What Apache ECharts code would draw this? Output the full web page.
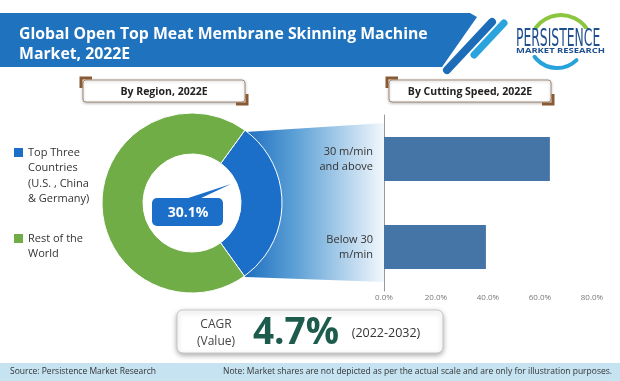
<!DOCTYPE html>
<html>
<head>
<meta charset="utf-8">
<script src="https://cdn.jsdelivr.net/npm/echarts@6/dist/echarts.min.js"></script>
<style>html,body{margin:0;padding:0;background:#fff}#c{width:620px;height:381px}</style>
</head>
<body>
<div id="c"></div>
<script>
const titleLines = ['Global Open Top Meat Membrane Skinning Machine', 'Market, 2022E'];
const regionNames = ['Top Three Countries (U.S. , China & Germany)', 'Rest of the World'];
const regionLegendLabels = ['Top Three\nCountries\n(U.S. , China\n& Germany)', 'Rest of the\nWorld'];
const regionShares = [30.1, 69.9];
const regionColors = ['#1c6fc9', '#70ad47'];
const calloutText = '30.1%';
const speedCategories = ['Below 30\nm/min', '30 m/min\nand above'];
const speedShares = [39.2, 63.8];
const xTickValues = [0, 20, 40, 60, 80];
const cagrValue = '4.7%';
const cagrPeriod = '(2022-2032)';
const sourceText = 'Source: Persistence Market Research';
const noteText = 'Note: Market shares are not depicted as per the actual scale and are only for illustration purposes.';

const chart = echarts.init(document.getElementById('c'), null, {renderer: 'canvas'});
const FF = '"Open Sans", "Noto Sans", sans-serif';

function headerBox(x, y, w, h, label) {
  return [
    {type: 'rect', shape: {x: x, y: y, width: w, height: h, r: 3}, style: {fill: '#fff', stroke: '#a38b78', lineWidth: 1, shadowBlur: 3, shadowColor: 'rgba(0,0,0,0.25)', shadowOffsetY: 1}, z: 5},
    {type: 'polyline', shape: {points: [[x - 2, y + 8], [x - 2, y - 2], [x + 9, y - 2]]}, style: {stroke: '#8a5a33', lineWidth: 3, fill: null}, z: 6},
    {type: 'polyline', shape: {points: [[x + w + 2, y + h - 8], [x + w + 2, y + h + 2], [x + w - 9, y + h + 2]]}, style: {stroke: '#8a5a33', lineWidth: 3, fill: null}, z: 6},
    {type: 'text', style: {text: label, x: x + w / 2, y: y + h / 2 + 1, align: 'center', verticalAlign: 'middle', fontFamily: FF, fontSize: 10.5, fontWeight: 'bold', fill: '#222'}, z: 7}
  ];
}

const graphics = [];
// header band
graphics.push({type: 'polygon', shape: {points: [[0, 13], [470, 13], [477, 17], [442, 67], [0, 67]]}, style: {fill: '#1f72bd'}, z: 1});
graphics.push({type: 'line', shape: {x1: 447, y1: 70, x2: 492, y2: 22}, style: {stroke: '#1c6cb8', lineWidth: 8, lineCap: 'round'}, z: 1});
graphics.push({type: 'line', shape: {x1: 474, y1: 55, x2: 504, y2: 23}, style: {stroke: '#2ba3dd', lineWidth: 7, lineCap: 'round'}, z: 1});
graphics.push({type: 'text', style: {text: titleLines.join('\n'), x: 19, y: 24, fontFamily: FF, fontSize: 15.8, fontWeight: 'bold', fill: '#fff', lineHeight: 20}, z: 2});
// logo
graphics.push({type: 'arc', shape: {cx: 561, cy: 46, r: 31, startAngle: 3.6, endAngle: 5.9, clockwise: true}, style: {stroke: '#8cc63f', lineWidth: 4, fill: null, lineCap: 'round'}, z: 1});
graphics.push({type: 'arc', shape: {cx: 557, cy: 40, r: 28, startAngle: 0.8, endAngle: 2.5, clockwise: true}, style: {stroke: '#27a2db', lineWidth: 4, fill: null, lineCap: 'round'}, z: 1});
graphics.push({type: 'rect', shape: {x: 514, y: 29, width: 90, height: 26}, style: {fill: '#fff'}, z: 2});
graphics.push({type: 'text', x: 516, y: 27, scaleX: 0.55, style: {text: 'PERSISTENCE', x: 0, y: 0, fontFamily: '"Liberation Sans Narrow", "DejaVu Sans Condensed", sans-serif', fontSize: 25, fill: '#1e4f8f'}, z: 3});
graphics.push({type: 'text', x: 516, y: 48, scaleX: 1.45, style: {text: 'MARKET RESEARCH', x: 0, y: 0, fontFamily: FF, fontSize: 6.5, fontWeight: 'bold', fill: '#1e4f8f'}, z: 3});
// section headers
graphics.push(...headerBox(83, 80, 162, 22, 'By Region, 2022E'));
graphics.push(...headerBox(389, 80, 162, 22, 'By Cutting Speed, 2022E'));
// funnel gradient
graphics.push({type: 'polygon', shape: {points: [[245, 132], [385, 123], [385, 282], [245, 277]]}, style: {fill: new echarts.graphic.LinearGradient(0, 0, 1, 0, [{offset: 0, color: '#1f6fc0'}, {offset: 0.35, color: '#5b9fd5'}, {offset: 1, color: '#f4f9fd'}])}, z: 0});
// callout
graphics.push({type: 'polygon', shape: {points: [[182, 200], [231, 184], [197, 200]]}, style: {fill: '#1c6fc9'}, z: 20});
graphics.push({type: 'rect', shape: {x: 152, y: 198, width: 71, height: 28, r: 5}, style: {fill: '#1c6fc9'}, z: 20});
graphics.push({type: 'text', style: {text: calloutText, x: 188, y: 213, align: 'center', verticalAlign: 'middle', fontFamily: FF, fontSize: 14, fontWeight: 'bold', fill: '#fff'}, z: 21});
// legend
const legendTops = [148, 234];
regionLegendLabels.forEach(function (lab, i) {
  graphics.push({type: 'rect', shape: {x: 14, y: legendTops[i], width: 9, height: 9}, style: {fill: regionColors[i]}, z: 5});
  graphics.push({type: 'text', style: {text: lab, x: 28, y: legendTops[i] - 3, fontFamily: FF, fontSize: 11, fill: '#333', lineHeight: 15.5}, z: 5});
});
// CAGR box
graphics.push({type: 'rect', shape: {x: 177, y: 310, width: 266, height: 43, r: 6}, style: {fill: '#fff', stroke: '#c8c8c8', lineWidth: 1, shadowBlur: 5, shadowColor: 'rgba(0,0,0,0.3)', shadowOffsetY: 2}, z: 5});
graphics.push({type: 'text', style: {text: 'CAGR\n(Value)', x: 216, y: 333, align: 'center', verticalAlign: 'middle', fontFamily: FF, fontSize: 12, fill: '#444', lineHeight: 17}, z: 6});
graphics.push({type: 'text', style: {text: cagrValue, x: 296, y: 333, align: 'center', verticalAlign: 'middle', fontFamily: FF, fontSize: 37, fontWeight: 'bold', fill: '#1d5c4c'}, z: 6});
graphics.push({type: 'text', style: {text: cagrPeriod, x: 386, y: 333, align: 'center', verticalAlign: 'middle', fontFamily: FF, fontSize: 12.5, fill: '#333'}, z: 6});
// footer
graphics.push({type: 'rect', shape: {x: 0, y: 363, width: 620, height: 18}, style: {fill: '#c6e3f2'}, z: 1});
graphics.push({type: 'text', style: {text: sourceText, x: 10, y: 372, verticalAlign: 'middle', fontFamily: FF, fontSize: 8.5, fill: '#333'}, z: 2});
graphics.push({type: 'text', style: {text: noteText, x: 612, y: 372, align: 'right', verticalAlign: 'middle', fontFamily: FF, fontSize: 8.5, fill: '#333'}, z: 2});

const option = {
  animation: false,
  backgroundColor: '#fff',
  graphic: {elements: graphics},
  grid: {left: 384, right: 28, top: 115, bottom: 90, containLabel: false},
  xAxis: {
    type: 'value', min: 0, max: 80, interval: 20,
    axisLine: {show: false}, axisTick: {show: false}, splitLine: {show: false},
    axisLabel: {formatter: function (v) { return xTickValues.indexOf(v) >= 0 ? v.toFixed(1) + '%' : ''; }, fontFamily: FF, fontSize: 8, color: '#777', margin: 3}
  },
  yAxis: {
    type: 'category', data: speedCategories,
    axisLine: {show: true, lineStyle: {color: '#999', width: 1}}, axisTick: {show: false},
    axisLabel: {fontFamily: FF, fontSize: 11, color: '#333', margin: 11, lineHeight: 15, align: 'right'}
  },
  series: [
    {
      type: 'pie', center: [192, 203], radius: [49, 90], startAngle: 54, clockwise: true,
      label: {show: false}, labelLine: {show: false}, silent: true,
      itemStyle: {borderColor: '#fff', borderWidth: 1},
      data: regionNames.map(function (n, i) { return {name: n, value: regionShares[i], itemStyle: {color: regionColors[i]}}; }),
      z: 2
    },
    {
      type: 'bar', data: speedShares, barCategoryGap: '50%',
      itemStyle: {color: '#4575a6'}, silent: true, z: 2
    }
  ]
};
chart.setOption(option);
</script>
</body>
</html>
